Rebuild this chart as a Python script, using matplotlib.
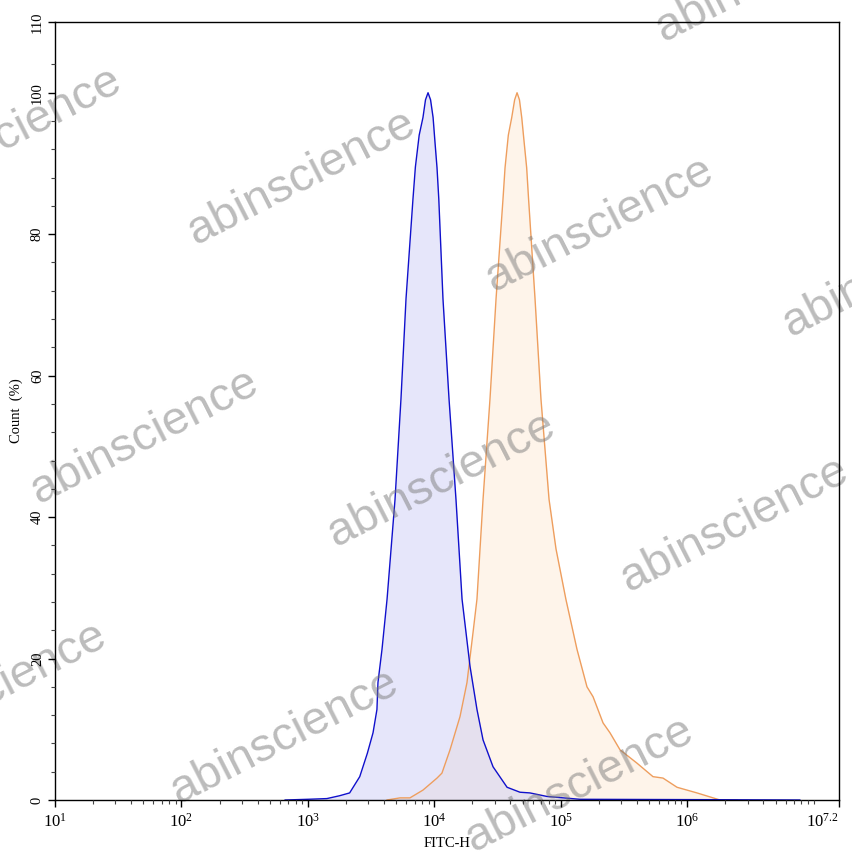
import matplotlib
matplotlib.use("Agg")
import matplotlib.pyplot as plt
import matplotlib.transforms as mtransforms
from matplotlib.ticker import FixedLocator, LogLocator, NullFormatter
import numpy as np

plt.rcParams['font.family'] = ['Liberation Serif', 'DejaVu Serif']
plt.rcParams['mathtext.fontset'] = 'custom'
plt.rcParams['mathtext.rm'] = 'Liberation Serif'
plt.rcParams['mathtext.it'] = 'Liberation Serif:italic'

#%% Histogram outlines (log10 of FITC-H, count %)
blue_log = [2.82, 3.00, 3.15, 3.25, 3.33, 3.41, 3.47, 3.515, 3.546, 3.554, 3.586, 3.626,
            3.689, 3.736, 3.776, 3.831, 3.85, 3.88, 3.91, 3.93, 3.95, 3.97, 3.99, 4.005,
            4.021, 4.035, 4.068, 4.116, 4.171, 4.219, 4.282, 4.337, 4.385, 4.464, 4.575,
            4.677, 4.756, 4.891, 5.152, 6.1, 6.89]
blue_pct = [0, 0.1, 0.2, 0.6, 1.0, 3.3, 6.6, 9.5, 12.8, 16.6, 21.3, 28.4,
            42.5, 56.7, 70.9, 85, 89.5, 94, 96.5, 99, 100, 99, 96.5, 93,
            89.4, 85, 70.9, 56.7, 42.5, 28.4, 18.9, 12.8, 8.5, 4.7, 1.8,
            1.1, 1.0, 0.5, 0.1, 0.05, 0]

orange_log = [3.626, 3.728, 3.807, 3.91, 4.021, 4.06, 4.124, 4.203, 4.258, 4.306, 4.337,
              4.385, 4.44, 4.488, 4.543, 4.559, 4.585, 4.612, 4.635, 4.654, 4.673, 4.691,
              4.71, 4.73, 4.745, 4.796, 4.843, 4.907, 4.962, 5.04, 5.128, 5.207, 5.255,
              5.334, 5.389, 5.468, 5.603, 5.729, 5.808, 5.919, 6.077, 6.259, 6.393]
orange_pct = [0, 0.3, 0.3, 1.4, 3.1, 3.8, 7.1, 11.8, 16.6, 23.7, 28.4,
              42.5, 56.7, 70.9, 85, 89.4, 94, 96.5, 99, 100, 99, 96.5,
              93, 89.4, 85, 70.9, 56.7, 42.5, 35.5, 28.4, 21.3, 16, 14.6,
              10.9, 9.5, 7.1, 5.2, 3.3, 3.1, 1.8, 1.0, 0, 0]

x_tick_exp = [1, 2, 3, 4, 5, 6, 7.2]
x_tick_labels = ['$10^{1}$', '$10^{2}$', '$10^{3}$', '$10^{4}$', '$10^{5}$', '$10^{6}$', '$10^{7.2}$']
y_ticks = [0, 20, 40, 60, 80, 100, 110]

blue_x = 10 ** np.array(blue_log)
orange_x = 10 ** np.array(orange_log)

#%% Figure
fig = plt.figure(figsize=(8.53, 8.56), dpi=100)
ax = fig.add_axes([55/853, 56/856, 784/853, 778/856])

ax.fill_between(orange_x, orange_pct, color='#FEF4EA', lw=0, zorder=1)
ax.fill_between(blue_x, blue_pct, color='#C8C8F5', alpha=0.45, lw=0, zorder=2)
ax.plot(orange_x, orange_pct, color='#EE9E5E', lw=1, zorder=3)
ax.plot(blue_x, blue_pct, color='#1010CC', lw=1, zorder=4)

ax.set_xscale('log')
ax.set_xlim(10, 10 ** 7.2)
ax.set_ylim(0, 110)
ax.xaxis.set_major_locator(FixedLocator([10 ** e for e in x_tick_exp]))
ax.set_xticklabels(x_tick_labels, fontsize=12)
ax.xaxis.set_minor_locator(LogLocator(base=10, subs=np.arange(1, 10), numticks=30))
ax.xaxis.set_minor_formatter(NullFormatter())
# last label sits just inside the right edge
last = ax.get_xticklabels()[-1]
last.set_ha('right')
last.set_transform(last.get_transform() + mtransforms.ScaledTranslation(3/100, 0, fig.dpi_scale_trans))

ax.set_yticks(y_ticks)
ax.set_yticklabels([str(v) for v in y_ticks], rotation=90, va='center', fontsize=10.5)
ax.yaxis.set_minor_locator(FixedLocator([v for v in range(4, 105, 4) if v % 20]))

ax.tick_params(which='major', length=5, width=1, color='black')
ax.tick_params(which='minor', length=3, width=0.8, color='#444444')
ax.tick_params(axis='x', pad=4)
ax.tick_params(axis='y', pad=3)
for s in ax.spines.values():
    s.set_linewidth(1)
    s.set_zorder(20)
ax.xaxis.set_zorder(20)
ax.yaxis.set_zorder(20)

ax.set_xlabel('FITC-H', fontsize=10.5, labelpad=5)
ax.set_ylabel('Count  (%)', fontsize=10.5, labelpad=6)

#%% Watermarks (above the curves, below the frame and labels)
marks = [(8, 135), (302, 178), (600, 225), (770, -25), (897, 270), (145, 437),
         (442, 480), (735, 525), (-7, 690), (285, 737), (580, 785), (890, 880)]
for mx, my in marks:
    ax.text(mx/853, 1 - my/856, 'abinscience', transform=fig.transFigure, clip_on=False,
            fontsize=34, family='Liberation Sans', color='#7A7A7A', alpha=0.5,
            rotation=27, ha='center', va='center', zorder=10)

fig.savefig('out.png', dpi=100)
